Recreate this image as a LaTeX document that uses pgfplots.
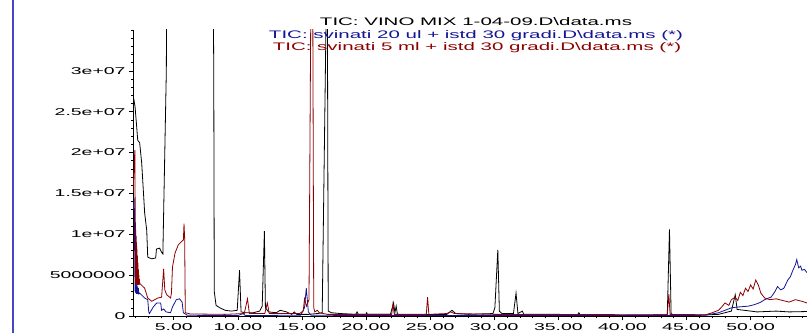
\documentclass[border=0pt]{standalone}
\usepackage{pgfplots}
\pgfplotsset{compat=1.18}
\usepackage{fontspec}
\setmainfont{Liberation Sans}
\definecolor{tblue}{RGB}{20,20,150}
\definecolor{tred}{RGB}{140,0,0}
\definecolor{framec}{RGB}{70,70,200}
\newcommand{\tk}[1]{\scalebox{1.95}[1]{#1}}
\newcommand{\ttl}[1]{\scalebox{1.87}[1]{#1}}
\begin{document}
\begin{tikzpicture}[x=1bp,y=1bp]
\begin{axis}[at={(133bp,17bp)}, anchor=south west, scale only axis,
  width=674bp, height=286bp,
  xmin=1.82, xmax=54.4, ymin=0, ymax=35,
  axis x line*=bottom, axis y line*=left,
  axis line style={-,black,line width=0.8bp},
  xtick={5,10,...,50},
  xticklabels={\tk{5.00},\tk{10.00},\tk{15.00},\tk{20.00},\tk{25.00},\tk{30.00},\tk{35.00},\tk{40.00},\tk{45.00},\tk{50.00}},
  minor xtick={2,3,...,55},
  ytick={0,5,...,30},
  yticklabels={\tk{0},\tk{5000000},\tk{1e+07},\tk{1.5e+07},\tk{2e+07},\tk{2.5e+07},\tk{3e+07}},
  minor ytick={1,2,...,35},
  tick align=outside,
  major tick length=4bp, minor tick length=2bp,
  tick style={black, line width=0.6bp},
  every tick label/.append style={font=\fontsize{10}{12}\selectfont, text=black},
  clip=true,
  every axis plot/.append style={line width=0.8bp, mark=none},
]
\addplot[black] coordinates {
(1.82,26.0)(1.9,26.4)(1.98,25.6)(2.11,23.1)(2.19,21.5)(2.34,21.2)(2.50,18.7)(2.73,12.6)(2.89,10.5)(2.97,7.2)
(3.28,7.0)(3.59,7.1)(3.65,8.2)(3.90,8.3)(4.05,7.8)(4.15,7.6)(4.42,30)(4.45,40)(8.08,40)(8.12,30)(8.16,3)
(8.3,1.3)(8.6,1.0)(9.0,0.7)(9.5,0.6)(9.95,0.7)(10.13,5.6)(10.25,0.5)(10.6,0.4)(11.2,0.4)(11.7,0.6)(11.9,1.2)
(12.07,10.4)(12.15,1.0)(12.4,0.5)(13.0,0.4)(13.3,0.7)(13.8,0.5)(14.2,0.2)(14.4,0.5)(14.6,0.2)(15.5,0.2)
(16.2,0.3)(16.58,0.4)(16.87,35)(16.93,60)(16.99,35)(17.05,0.6)(17.3,0.4)(18,0.3)(19.2,0.2)(19.3,0.5)(19.4,0.2)
(20,0.2)(20.05,0.4)(20.1,0.2)(21.9,0.2)(22.15,1.6)(22.25,0.4)(22.35,1.2)(22.45,0.2)(24,0.15)(26.3,0.2)
(26.7,0.7)(27.0,0.3)(28,0.2)(29.9,0.3)(30.05,1)(30.28,8.1)(30.4,0.6)(30.6,0.3)(31.5,0.3)(31.7,2.8)(31.85,0.3)
(32.2,0.6)(32.3,0.2)(35,0.2)(36.5,0.15)(36.6,0.4)(36.7,0.15)(40,0.1)(43.5,0.15)(43.67,10.6)(43.8,0.2)
(46,0.1)(47.5,0.2)(48.5,0.6)(48.8,2.6)(48.95,0.8)(49.5,0.7)(50.5,0.5)(52,0.6)(53,0.5)(54.5,0.55)
};
\addplot[tblue] coordinates {
(1.82,13.0)(1.92,14.4)(1.95,7.7)(1.97,4.5)(1.99,2.9)(2.01,4.2)(2.03,2.8)(2.06,4.0)(2.09,2.7)(2.12,3.8)(2.15,2.7)
(2.18,3.6)(2.21,2.7)(2.24,3.4)(2.27,2.7)(2.34,2.8)(2.73,2.2)(2.97,2.0)(3.05,0.5)(3.1,0.3)(3.4,1.1)
(3.67,1.6)(3.98,1.6)(4.05,0.7)(4.21,0.85)(4.4,0.5)(4.75,0.4)(4.9,1.1)(5.2,2.0)(5.45,2.1)(5.65,1.7)
(5.75,0.4)(6.05,0.1)(8,0.05)(10,0.05)(10.4,0.3)(10.6,0.05)(14.9,0.1)(15.2,1.0)(15.34,3.4)(15.5,0.5)
(15.7,0.1)(20,0.05)(30,0.05)(45.5,0.05)(46.5,0.1)(47.0,0.25)(47.5,0.4)(48.0,0.7)(48.5,1.0)(49.0,1.1)
(49.4,1.15)(49.8,1.2)(50.2,1.35)(50.5,1.5)(50.8,1.7)(51.1,2.0)(51.4,2.2)(51.6,2.3)(51.9,3.0)(52.1,3.6)
(52.35,3.2)(52.6,3.4)(52.9,4.4)(53.1,4.8)(53.3,5.6)(53.5,6.3)(53.6,6.9)(53.75,5.9)(53.9,6.1)(54.0,5.6)(54.2,5.7)(54.4,5.3)
};
\addplot[tred] coordinates {
(1.82,15.0)(1.94,19.5)(1.97,20.3)(1.99,12)(2.01,11.2)(2.02,4.0)(2.04,10.6)(2.05,3.9)(2.07,9.8)(2.08,3.9)
(2.10,9.0)(2.11,3.8)(2.13,8.2)(2.14,3.8)(2.16,7.4)(2.18,3.8)(2.20,6.5)(2.22,3.8)(2.24,5.7)(2.26,3.8)
(2.28,5.0)(2.30,3.8)(2.32,4.5)(2.34,4.0)(2.73,3.4)(2.97,2.2)(3.28,1.8)(3.75,2.2)(4.05,2.3)(4.21,5.75)
(4.3,3.2)(4.45,2.6)(4.75,2.2)(4.82,2.8)(4.9,6.0)(5.1,7.7)(5.35,8.7)(5.6,9.1)(5.75,9.3)(5.8,11.3)(5.85,9.5)
(5.9,0.4)(6.3,0.25)(9,0.2)(10.5,0.3)(10.75,2.1)(10.9,0.3)(12.1,0.3)(12.3,1.6)(12.45,0.3)(14.8,0.3)
(15.1,0.6)(15.2,2.1)(15.35,1.2)(15.55,2.0)(15.68,35)(15.75,60)(15.85,35)(15.92,1.0)(16.0,0.5)(16.2,0.7)
(16.35,0.4)(17,0.2)(22.0,0.2)(22.1,1.5)(22.2,0.2)(24.7,0.2)(24.8,2.3)(24.9,0.2)(26.3,0.3)(26.6,0.5)
(26.9,0.3)(30,0.2)(43.5,0.15)(43.62,2.7)(43.72,0.2)(46.5,0.15)(47.0,0.4)(47.5,0.7)(47.8,1.2)(48.0,1.6)
(48.3,1.3)(48.5,2.0)(48.8,2.3)(49.0,1.9)(49.2,2.9)(49.4,2.5)(49.6,3.4)(49.8,3.0)(50.0,3.8)(50.2,3.3)
(50.4,4.4)(50.6,3.8)(50.8,2.8)(51.1,2.2)(51.5,2.0)(52.0,2.1)(52.5,1.9)(53.0,1.7)(53.5,2.0)(54.0,1.8)(54.4,1.6)
};
\end{axis}
\draw[framec, line width=1.6bp] (12.7bp,0) -- (12.7bp,333bp);
\node[text=black, font=\fontsize{11}{13}\selectfont] at (476bp,311bp) {\ttl{TIC: VINO MIX 1-04-09.D\textbackslash data.ms}};
\node[text=tblue, font=\fontsize{11}{13}\selectfont] at (476bp,297bp) {\ttl{TIC: svinati 20 ul + istd 30 gradi.D\textbackslash data.ms (*)}};
\node[text=tred, font=\fontsize{11}{13}\selectfont] at (477bp,285bp) {\ttl{TIC: svinati 5 ml + istd 30 gradi.D\textbackslash data.ms (*)}};
\pgfresetboundingbox
\path[use as bounding box] (0,0) rectangle (807bp,333bp);
\end{tikzpicture}
\end{document}
